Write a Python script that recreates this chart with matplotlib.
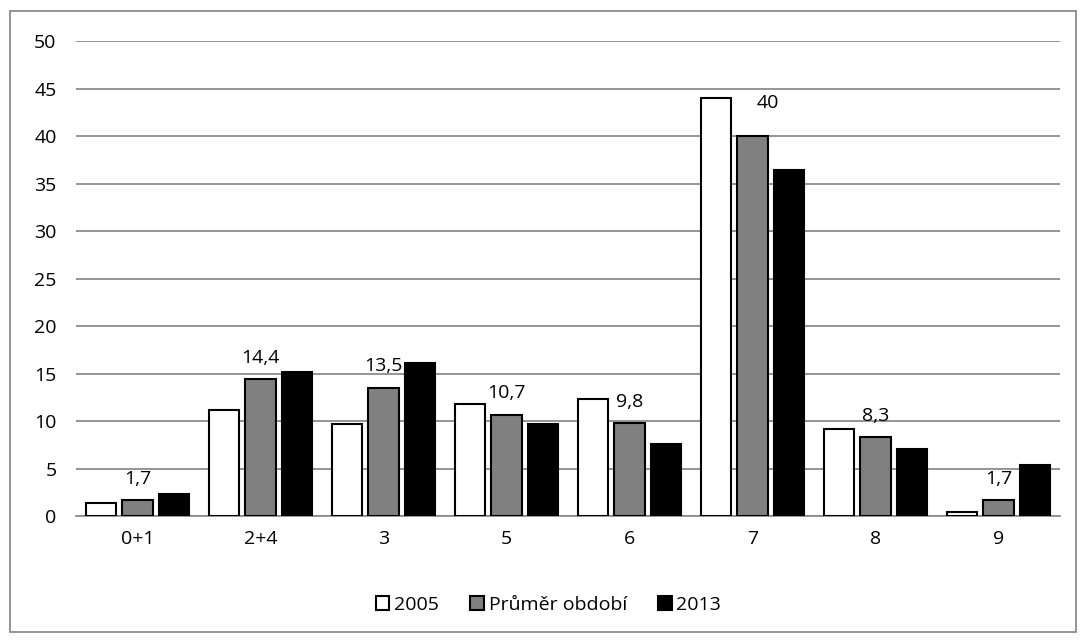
import matplotlib
matplotlib.use('Agg')
import matplotlib.pyplot as plt
import numpy as np
from matplotlib.patches import Rectangle

kategorie = ['0+1', '2+4', '3', '5', '6', '7', '8', '9']
rok_2005 = [1.4, 11.2, 9.7, 11.8, 12.3, 44.0, 9.2, 0.4]
prumer = [1.7, 14.4, 13.5, 10.7, 9.8, 40.0, 8.3, 1.7]
rok_2013 = [2.3, 15.2, 16.1, 9.7, 7.6, 36.4, 7.1, 5.4]
popisky = ['1,7', '14,4', '13,5', '10,7', '9,8', '40', '8,3', '1,7']

plt.rcParams['font.family'] = ['Open Sans', 'DejaVu Sans']

fig = plt.figure(figsize=(10.86, 6.42), dpi=100)
ax = fig.add_axes([0.070, 0.196, 0.906, 0.74])

x = np.arange(len(kategorie))
w = 0.245
g = 0.297
ax.bar(x - g, rok_2005, w, color='white', edgecolor='black', linewidth=1.5, label='2005', zorder=3)
ax.bar(x, prumer, w, color='#808080', edgecolor='black', linewidth=1.5, label='Průměr období', zorder=3)
ax.bar(x + g, rok_2013, w, color='black', edgecolor='black', linewidth=1.5, label='2013', zorder=3)

# popisky jen u průměru
for xi, v, t in zip(x, prumer, popisky):
    if v > 30:
        ax.annotate(t, (xi + 0.03, v), xytext=(0, 17), textcoords='offset points',
                    ha='left', va='bottom', fontsize=14)
    else:
        ax.annotate(t, (xi, v), xytext=(0, 9), textcoords='offset points',
                    ha='center', va='bottom', fontsize=14)

ax.set_xlim(-0.5, len(kategorie) - 0.5)
ax.set_ylim(0, 50)
ax.set_yticks(range(0, 51, 5))
ax.set_xticks(x)
ax.set_xticklabels(kategorie)
ax.tick_params(axis='both', length=0, labelsize=14, pad=10)
ax.tick_params(axis='y', pad=14)
ax.grid(axis='y', color='#8c8c8c', linewidth=1.3, zorder=0)
for s in ['top', 'right', 'left']:
    ax.spines[s].set_visible(False)
ax.spines['bottom'].set_color('#8c8c8c')
ax.spines['bottom'].set_linewidth(1.3)

fig.legend(loc='center', bbox_to_anchor=(0.505, 0.058), ncol=3, frameon=False,
           fontsize=14, handlelength=0.7, handleheight=0.7, handletextpad=0.25,
           columnspacing=1.6)

fig.patches.append(Rectangle((0.009, 0.016), 0.982, 0.967, transform=fig.transFigure,
                             fill=False, edgecolor='#8c8c8c', linewidth=1.3))

fig.savefig('out.png', dpi=100)
